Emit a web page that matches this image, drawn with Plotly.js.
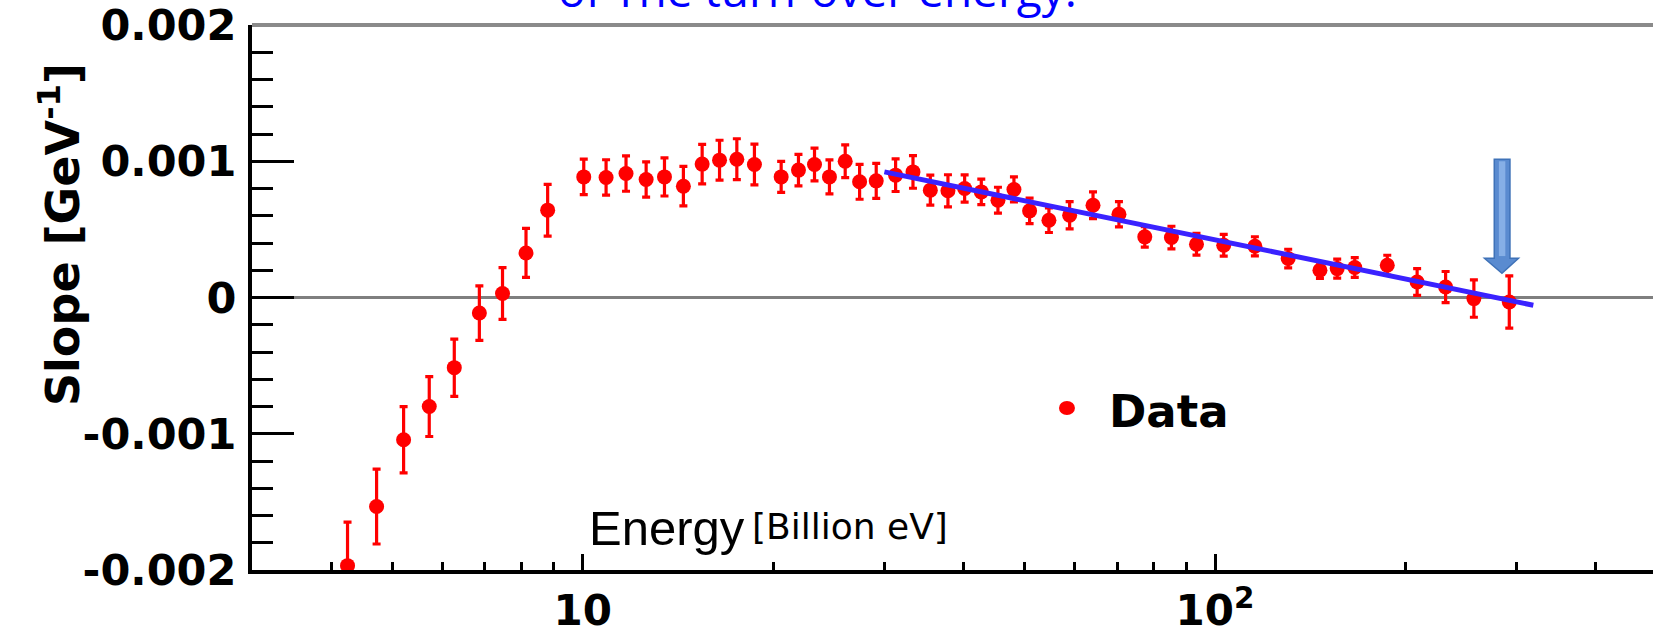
<!DOCTYPE html>
<html><head><meta charset="utf-8">
<script src="https://cdn.plot.ly/plotly-3.0.1.min.js"></script>
<style>html,body{margin:0;padding:0;background:#fff;overflow:hidden}</style>
</head><body><div id="chart" style="width:1653px;height:635px"></div>
<script>
// Energy in GeV (Billion eV)
const energy = [4.248, 4.722, 5.210, 5.720, 6.266, 6.865, 7.469, 8.136, 8.803,
  10.04, 10.89, 11.71, 12.60, 13.47, 14.43, 15.45, 16.46, 17.53, 18.69,
  20.60, 21.94, 23.26, 24.56, 26.01, 27.41, 29.12, 31.25, 33.29, 35.46, 37.81,
  40.18, 42.69, 45.36, 48.08, 50.90, 54.61, 58.89, 64.12, 70.47, 77.42, 85.31, 93.46,
  103.2, 115.6, 130.5, 146.5, 156.0, 166.3, 187.2, 208.7, 231.5, 256.6, 291.9];
// Slope in GeV^-1
const slope = [-0.001968, -0.001534, -0.001044, -0.000800, -0.000515, -0.000114, 0.000029, 0.000327, 0.000641,
  0.000885, 0.000881, 0.000910, 0.000866, 0.000885, 0.000817, 0.000979, 0.001008, 0.001015, 0.000976,
  0.000885, 0.000935, 0.000976, 0.000885, 0.001000, 0.000849, 0.000856, 0.000898, 0.000922, 0.000788, 0.000783,
  0.000800, 0.000775, 0.000714, 0.000793, 0.000636, 0.000567, 0.000604, 0.000677, 0.000611, 0.000445, 0.000440, 0.000391,
  0.000384, 0.000376, 0.000286, 0.000200, 0.000212, 0.000220, 0.000237, 0.000114, 0.000077, -0.000008, -0.000033];
const slopeErr = [0.000320, 0.000275, 0.000243, 0.000220, 0.000210, 0.000200, 0.000190, 0.000180, 0.000190,
  0.000130, 0.000130, 0.000130, 0.000130, 0.000140, 0.000145, 0.000145, 0.000146, 0.000150, 0.000150,
  0.000114, 0.000116, 0.000120, 0.000125, 0.000120, 0.000128, 0.000128, 0.000120, 0.000120, 0.000110, 0.000118,
  0.000100, 0.000094, 0.000095, 0.000092, 0.000094, 0.000090, 0.000100, 0.000098, 0.000092, 0.000075, 0.000083, 0.000080,
  0.000080, 0.000070, 0.000068, 0.000060, 0.000070, 0.000073, 0.000073, 0.000098, 0.000114, 0.000137, 0.000192];
// Linear fit (in log energy) end points
const fitEnergy = [30, 318.6];
const fitSlope = [0.000922, -0.000057];

const yTickVals = [-0.002, -0.001, 0, 0.001, 0.002];
const yTickText = ['-0.002', '-0.001', '0', '0.001', '0.002'];
const yMinorVals = [-0.0018, -0.0016, -0.0014, -0.0012, -0.0008, -0.0006, -0.0004, -0.0002,
  0.0002, 0.0004, 0.0006, 0.0008, 0.0012, 0.0014, 0.0016, 0.0018];
const xTickVals = [10, 100];
const xTickText = ['10', '10<sup>2</sup>'];
const xMinorVals = [4, 5, 6, 7, 8, 9, 20, 30, 40, 50, 60, 70, 80, 90, 200, 300, 400];
const xRange = [3, 492.6];

const titleText = 'of The turn-over energy.';
const yTitleText = 'Slope [GeV<sup>-1</sup>]';
const xTitleMain = 'Energy';
const xTitleUnit = '[Billion eV]';
const legendText = 'Data';

const boldFont = {family: 'DejaVu Sans', size: 43, color: '#000', weight: 'bold'};

const traces = [
  {
    x: energy, y: slope, type: 'scatter', mode: 'markers', name: legendText,
    marker: {color: '#ff0000', size: 15, symbol: 'circle'},
    error_y: {type: 'data', array: slopeErr, visible: true, color: '#ff0000', thickness: 3.2, width: 4},
    hoverinfo: 'skip'
  },
  {
    x: fitEnergy, y: fitSlope, type: 'scatter', mode: 'lines',
    line: {color: '#3a22ff', width: 5}, hoverinfo: 'skip'
  }
];

// arrow geometry in paper fractions
const arrowPath = 'M 0.8867 0.7536 L 0.8979 0.7536 L 0.8979 0.5719 L 0.9040 0.5719 L 0.8922 0.5444 L 0.8797 0.5719 L 0.8867 0.5719 Z';
const arrowHi = 'M 0.8900 0.7500 L 0.8946 0.7500 L 0.8946 0.5760 L 0.8900 0.5760 Z';

const layout = {
  width: 1653, height: 635,
  margin: {l: 252, r: 0, t: 25, b: 65, pad: 0},
  paper_bgcolor: '#ffffff', plot_bgcolor: '#ffffff',
  showlegend: false,
  xaxis: {
    type: 'log', range: [Math.log10(xRange[0]), Math.log10(xRange[1])],
    showline: true, linecolor: '#000', linewidth: 4,
    ticks: 'inside', ticklen: 16, tickwidth: 3, tickcolor: '#000',
    tickmode: 'array', tickvals: xTickVals, ticktext: xTickText,
    tickfont: Object.assign({}, boldFont, {size: 42}),
    ticklabelstandoff: 1,
    showgrid: false, zeroline: false, automargin: false, fixedrange: true,
    minor: {tickmode: 'array', tickvals: xMinorVals, ticks: 'inside', ticklen: 8, tickwidth: 3, tickcolor: '#000', showgrid: false}
  },
  yaxis: {
    range: [-0.002, 0.002],
    showline: true, linecolor: '#000', linewidth: 4,
    ticks: 'inside', ticklen: 42, tickwidth: 3, tickcolor: '#000',
    tickmode: 'array', tickvals: yTickVals, ticktext: yTickText,
    tickfont: boldFont,
    ticklabelstandoff: 3,
    showgrid: false, zeroline: true, zerolinecolor: '#7f7f7f', zerolinewidth: 3,
    automargin: false, fixedrange: true,
    minor: {tickmode: 'array', tickvals: yMinorVals, ticks: 'inside', ticklen: 21, tickwidth: 3, tickcolor: '#000', showgrid: false}
  },
  shapes: [
    {type: 'line', xref: 'paper', yref: 'paper', x0: 0, x1: 1, y0: 1, y1: 1, line: {color: '#8a8a8a', width: 4}},
    {type: 'path', xref: 'paper', yref: 'paper', path: arrowPath, fillcolor: '#5a8bd0', line: {color: '#3f72b8', width: 1.5}},
    {type: 'path', xref: 'paper', yref: 'paper', path: arrowHi, fillcolor: '#86afe6', line: {width: 0}},
    {type: 'circle', xref: 'paper', yref: 'paper', xsizemode: 'pixel', ysizemode: 'pixel',
     xanchor: 0.5817, yanchor: 0.2972, x0: -8, x1: 8, y0: -7, y1: 7, fillcolor: '#ff0000', line: {width: 0}}
  ],
  annotations: [
    {text: titleText, xref: 'paper', yref: 'paper', x: 0.2170, y: 1.0046, xanchor: 'left', yanchor: 'bottom',
     showarrow: false, font: {family: 'Open Sans', size: 46, color: '#0000ff'}},
    {text: yTitleText, xref: 'paper', yref: 'paper', x: -0.137, y: 0.6147, xanchor: 'center', yanchor: 'middle',
     textangle: -90, showarrow: false, font: {family: 'DejaVu Sans', size: 46, color: '#000', weight: 'bold'}},
    {text: xTitleMain, xref: 'paper', yref: 'paper', x: 0.2391, y: 0.0771, xanchor: 'left', yanchor: 'middle',
     showarrow: false, font: {family: 'Liberation Sans', size: 49, color: '#000'}},
    {text: xTitleUnit, xref: 'paper', yref: 'paper', x: 0.3555, y: 0.0789, xanchor: 'left', yanchor: 'middle',
     showarrow: false, font: {family: 'DejaVu Sans', size: 36, color: '#000'}},
    {text: legendText, xref: 'paper', yref: 'paper', x: 0.6103, y: 0.2908, xanchor: 'left', yanchor: 'middle',
     showarrow: false, font: {family: 'DejaVu Sans', size: 45, color: '#000', weight: 'bold'}}
  ]
};

Plotly.newPlot('chart', traces, layout, {staticPlot: true, displayModeBar: false});
</script>
</body></html>
